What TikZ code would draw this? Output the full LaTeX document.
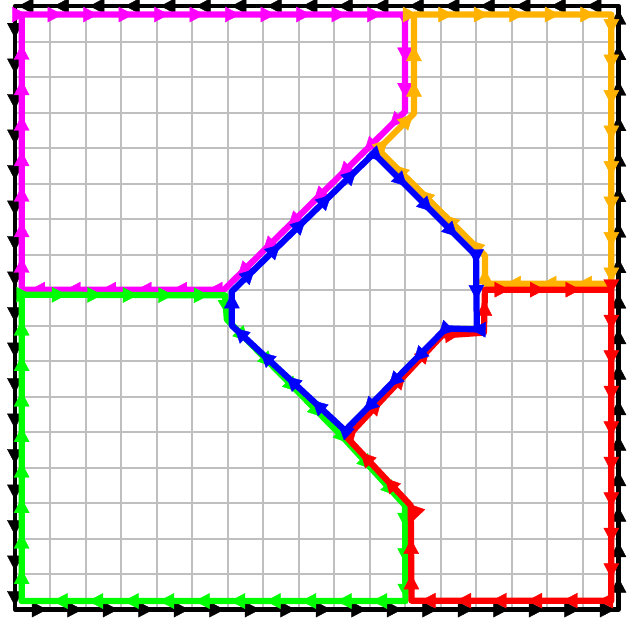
\documentclass[tikz,border=0pt]{standalone}
\usepackage{tikz}
\usetikzlibrary{arrows.meta,decorations.markings}
\definecolor{faceorange}{RGB}{255,178,0}
\definecolor{facemagenta}{RGB}{255,0,255}

\begin{document}
\begin{tikzpicture}[line join=round,
  looparrows/.style={postaction={decorate},
    decoration={markings,mark=between positions 0.9cm and 1 step 1cm with
      {\arrow{Triangle[length=4.2mm,width=4.4mm,line width=0.3pt]}}}},
  outer/.style={black,line width=3.6pt,looparrows},
  face/.style={#1,line width=5pt,looparrows}]
\useasboundingbox (-0.42,-0.25) rectangle (17.41,17.17);
% background grid
\draw[gray!50,line width=1.6pt] (0,0) grid (17,17);
% outer face
\draw[outer] (17,17) -- (0,17) -- (0,0) -- (17,0) -- cycle;
% top left face
\draw[face=facemagenta] (0.19,9.01) -- (0.19,16.76) -- (10.99,16.76) -- (10.99,14.03)
  -- (5.89,9.01) -- cycle;
% top right face
\draw[face=faceorange] (11.24,13.97) -- (11.24,16.76) -- (16.80,16.76) -- (16.80,9.18)
  -- (13.24,9.18) -- (13.24,9.97) -- (10.23,12.96) -- cycle;
% bottom left face
\draw[face=green] (0.19,0.24) -- (0.19,8.87) -- (5.92,8.85) -- (5.97,8.17)
  -- (9.30,4.79) -- (10.99,2.93) -- (11.0,0.24) -- cycle;
% bottom right face
\draw[face=red] (13.21,7.80) -- (13.24,9.01) -- (16.80,9.01) -- (16.80,0.25)
  -- (11.17,0.25) -- (11.15,2.93) -- (9.35,4.85) -- (12.03,7.72) -- cycle;
% inner face
\draw[face=blue] (6.11,8.96) -- (10.11,12.85) -- (12.99,9.97) -- (13.01,7.89)
  -- (12.14,7.92) -- (9.30,5.04) -- (6.11,8.0) -- cycle;
\end{tikzpicture}
\end{document}
